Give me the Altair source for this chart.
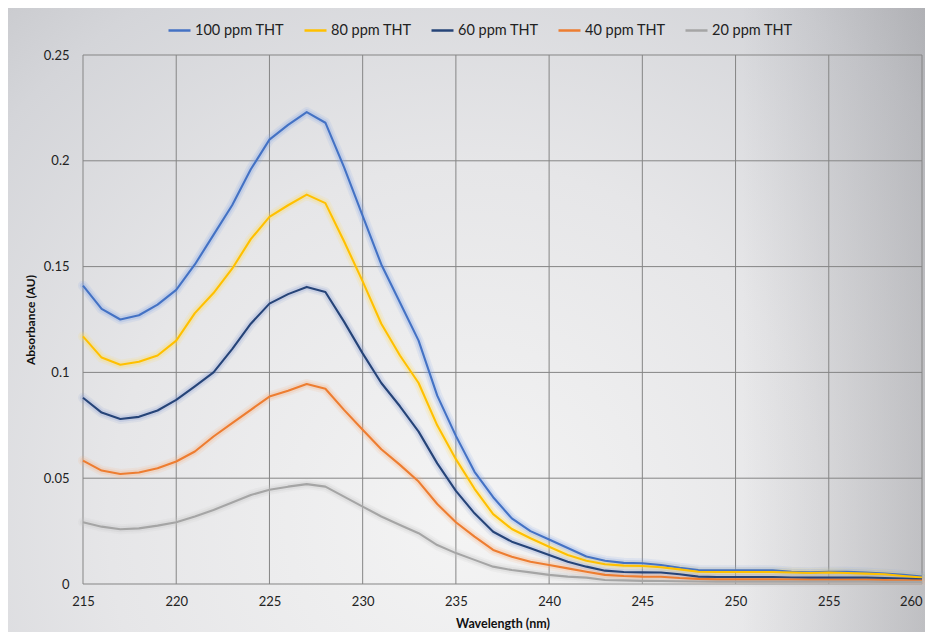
import altair as alt
import pandas as pd

wavelengths = list(range(215, 261))
series_names = ["100 ppm THT", "80 ppm THT", "60 ppm THT", "40 ppm THT", "20 ppm THT"]
series_colors = ["#4472C4", "#FFC000", "#264478", "#ED7D31", "#A5A5A5"]
glow_colors = ["#7FA3E8", "#FFDB5C", "#8CA0D8", "#F6B07E", "#C4C4C4"]

abs_100 = [0.141, 0.130, 0.125, 0.127, 0.132, 0.139, 0.151, 0.165, 0.179, 0.196,
           0.210, 0.217, 0.223, 0.218, 0.197, 0.174, 0.151, 0.133, 0.115, 0.089,
           0.070, 0.053, 0.041, 0.031, 0.025, 0.021, 0.017, 0.013, 0.011, 0.0100,
           0.0098, 0.0090, 0.0077, 0.0066, 0.0065, 0.0065, 0.0065, 0.0065, 0.0058, 0.0055,
           0.0058, 0.0058, 0.0054, 0.0049, 0.0043, 0.0035]
abs_80 = [0.117, 0.107, 0.1036, 0.105, 0.108, 0.115, 0.128, 0.1375, 0.149, 0.163,
          0.1735, 0.179, 0.184, 0.180, 0.162, 0.143, 0.123, 0.108, 0.095, 0.075,
          0.059, 0.045, 0.033, 0.026, 0.0216, 0.0176, 0.0137, 0.011, 0.0093, 0.0087,
          0.0085, 0.0079, 0.0069, 0.0058, 0.0057, 0.0057, 0.0057, 0.0057, 0.0054, 0.0052,
          0.0054, 0.0052, 0.0049, 0.0046, 0.0038, 0.0030]
abs_60 = [0.088, 0.081, 0.078, 0.079, 0.082, 0.087, 0.0934, 0.100, 0.111, 0.123,
          0.1325, 0.137, 0.1404, 0.138, 0.124, 0.109, 0.095, 0.084, 0.072, 0.057,
          0.044, 0.0334, 0.0247, 0.020, 0.0169, 0.0137, 0.0105, 0.0082, 0.0063, 0.0057,
          0.0055, 0.0054, 0.0046, 0.0035, 0.0033, 0.0033, 0.0033, 0.0033, 0.0031, 0.0030,
          0.0031, 0.0030, 0.0030, 0.0028, 0.0026, 0.0022]
abs_40 = [0.0583, 0.0536, 0.052, 0.0527, 0.0547, 0.0579, 0.0626, 0.0697, 0.076, 0.0823,
          0.0886, 0.0913, 0.0945, 0.0923, 0.0823, 0.0729, 0.0637, 0.0563, 0.0484, 0.0378,
          0.0292, 0.0224, 0.0161, 0.0129, 0.0105, 0.0090, 0.0074, 0.0058, 0.0043, 0.0038,
          0.0035, 0.0034, 0.0028, 0.0024, 0.0022, 0.0022, 0.0022, 0.0022, 0.0021, 0.0020,
          0.0020, 0.0020, 0.0020, 0.0019, 0.0018, 0.0016]
abs_20 = [0.0292, 0.0271, 0.0259, 0.0263, 0.0276, 0.0292, 0.0319, 0.035, 0.0385, 0.0421,
          0.0445, 0.046, 0.0472, 0.046, 0.0413, 0.0366, 0.0319, 0.0279, 0.024, 0.0184,
          0.0146, 0.0114, 0.0082, 0.0066, 0.0055, 0.0043, 0.0035, 0.0030, 0.0019, 0.0017,
          0.0015, 0.0014, 0.0013, 0.0012, 0.0011, 0.0011, 0.0011, 0.0011, 0.0011, 0.0011,
          0.0011, 0.0011, 0.0011, 0.0010, 0.0010, 0.0010]

x_ticks = [215, 220, 225, 230, 235, 240, 245, 250, 255, 260]
y_ticks = [0, 0.05, 0.1, 0.15, 0.2, 0.25]

rows = []
for name, vals in zip(series_names, [abs_100, abs_80, abs_60, abs_40, abs_20]):
    for w, v in zip(wavelengths, vals):
        rows.append({"Wavelength": w, "Absorbance": v, "Series": name})
df = pd.DataFrame(rows)

W, H = 839, 529
PAD = {"left": 75, "top": 47, "right": 3, "bottom": 48}

x_scale = alt.Scale(domain=[215, 260], nice=False, zero=False)
y_scale = alt.Scale(domain=[0, 0.25], nice=False)

x_axis = alt.Axis(values=x_ticks, title="Wavelength (nm)", grid=False, domain=False, ticks=False, zindex=1,
                  labelFontSize=13, labelColor="#222222", labelPadding=11,
                  labelAlign={"condition": {"test": "datum.value == 260", "value": "right"}, "value": "center"},
                  titleFontSize=12.5, titleFontWeight="bold", titleColor="#111111", titlePadding=9)
y_axis = alt.Axis(values=y_ticks, format="~g", title="Absorbance (AU)", grid=False, domain=False, ticks=False,
                  zindex=1, labelFontSize=13, labelColor="#222222", labelPadding=14,
                  titleFontSize=12, titleFontWeight="bold", titleColor="#111111", titlePadding=6)

radial = {"gradient": "radial", "x1": 0.5, "y1": 0.72, "r1": 0, "x2": 0.5, "y2": 0.72, "r2": 0.78,
          "stops": [{"offset": 0, "color": "#f4f4f4"}, {"offset": 0.5, "color": "#e6e6e8"},
                    {"offset": 0.85, "color": "#d4d5d9"}, {"offset": 1, "color": "#c8c9cd"}]}
edge = {"gradient": "linear", "x1": 0.8, "y1": 0, "x2": 1, "y2": 0,
        "stops": [{"offset": 0, "color": "rgba(80,80,85,0)"}, {"offset": 1, "color": "rgba(80,80,85,0.22)"}]}

one = pd.DataFrame({"k": [0]})
bg = alt.Chart(one).mark_rect(clip=False, fill=radial, strokeWidth=0).encode(
    x=alt.value(-PAD["left"]), x2=alt.value(W + PAD["right"]),
    y=alt.value(-PAD["top"]), y2=alt.value(H + PAD["bottom"]))
bg2 = alt.Chart(one).mark_rect(clip=False, fill=edge, strokeWidth=0).encode(
    x=alt.value(-PAD["left"]), x2=alt.value(W + PAD["right"]),
    y=alt.value(-PAD["top"]), y2=alt.value(H + PAD["bottom"]))

vgrid = alt.Chart(pd.DataFrame({"Wavelength": x_ticks})).mark_rule(color="#858585", strokeWidth=1).encode(
    x=alt.X("Wavelength:Q", scale=x_scale, axis=x_axis))
hgrid = alt.Chart(pd.DataFrame({"Absorbance": y_ticks})).mark_rule(color="#858585", strokeWidth=1).encode(
    y=alt.Y("Absorbance:Q", scale=y_scale, axis=y_axis))

glow = alt.Chart(df).mark_line(strokeWidth=10, opacity=0.14, strokeCap="round", strokeJoin="round").encode(
    x=alt.X("Wavelength:Q", scale=x_scale, axis=x_axis),
    y=alt.Y("Absorbance:Q", scale=y_scale, axis=y_axis),
    color=alt.Color("Series:N", scale=alt.Scale(domain=series_names, range=glow_colors), legend=None),
    detail="Series:N")

glow2 = alt.Chart(df).mark_line(strokeWidth=6, opacity=0.25, strokeCap="round", strokeJoin="round").encode(
    x=alt.X("Wavelength:Q", scale=x_scale, axis=x_axis),
    y=alt.Y("Absorbance:Q", scale=y_scale, axis=y_axis),
    color=alt.Color("Series:N", scale=alt.Scale(domain=series_names, range=glow_colors), legend=None),
    detail="Series:N")

lines = alt.Chart(df).mark_line(strokeWidth=2.1, strokeJoin="round").encode(
    x=alt.X("Wavelength:Q", scale=x_scale, axis=x_axis),
    y=alt.Y("Absorbance:Q", scale=y_scale, axis=y_axis),
    color=alt.Color("Series:N", scale=alt.Scale(domain=series_names, range=series_colors),
                    legend=alt.Legend(orient="none", legendX=84, legendY=-37, direction="horizontal",
                                      title=None, symbolType="stroke", symbolSize=484,
                                      symbolStrokeWidth=2.5, labelFontSize=14.5, labelColor="#222222",
                                      columnPadding=14, labelOffset=3)),
    order=alt.Order("Wavelength:Q"))

chart = alt.layer(bg, bg2, vgrid, hgrid, glow, glow2, lines).resolve_scale(
    color="independent"
).properties(
    width=W, height=H, autosize="none", padding=PAD, background="white"
).configure(font="Lato").configure_view(stroke=None)

chart.save("out.html", embed_options={"renderer": "svg", "actions": False})
